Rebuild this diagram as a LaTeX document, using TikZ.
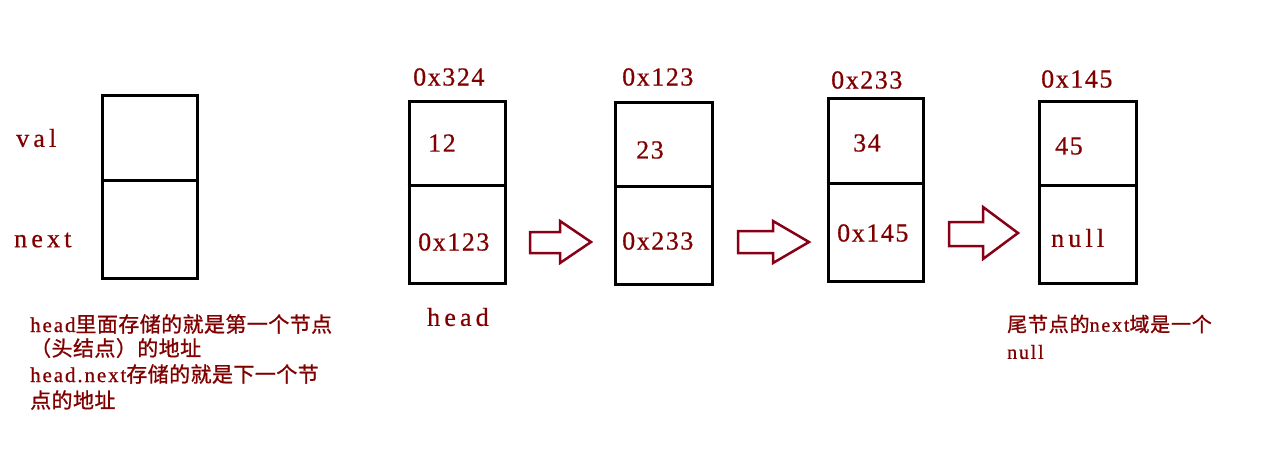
\documentclass[tikz,border=0pt]{standalone}
\usepackage{fontspec}
\setmainfont{Liberation Serif}
\newfontfamily\lat{Liberation Serif}[LetterSpace=6,FakeBold=0.6]
\newfontfamily\latw{Liberation Serif}[LetterSpace=16,FakeBold=0.6]
\newfontfamily\latb{Liberation Serif}[LetterSpace=9,FakeBold=0.8]
\newfontfamily\cjk{Noto Sans CJK SC}[LetterSpace=2,FakeBold=1]
\newfontfamily\cjkr{Noto Sans CJK SC}[LetterSpace=4,FakeBold=1]
\definecolor{txtred}{RGB}{128,0,0}
\definecolor{arrred}{RGB}{136,0,21}
\begin{document}
\begin{tikzpicture}[x=1pt,y=-1pt,
  cell/.style={draw=black,line width=3pt,rectangle,inner sep=0pt},
  lab/.style={anchor=west,inner sep=0pt,text=txtred,font=\lat\fontsize{26}{30}\selectfont},
  labw/.style={anchor=west,inner sep=0pt,text=txtred,font=\latw\fontsize{26}{30}\selectfont},
  note/.style={anchor=west,inner sep=0pt,text=txtred,font=\fontsize{21}{24}\selectfont},
  noter/.style={anchor=west,inner sep=0pt,text=txtred,font=\fontsize{20}{24}\selectfont},
  blockarrow/.style={draw=arrred,line width=2.5pt,fill=white,line join=miter}]
\useasboundingbox (0,0) rectangle (1276,464);
% legend box
\node[cell,minimum width=95pt,minimum height=183pt] (b0) at (149.5,186.5) {};
\draw[line width=3pt] (b0.west |- 0,180.5) -- (b0.east |- 0,180.5);
\node[labw] (lval) at (16,138) {val};
\node[labw] (lnext) at (14,240) {next};
% node 1
\node[cell,minimum width=96pt,minimum height=182pt] (b1) at (457,192) {};
\draw[line width=3pt] (b1.west |- 0,185) -- (b1.east |- 0,185);
\node[lab] (a1) at (413,77) {0x324};
\node[lab] (v1) at (428,143) {12};
\node[lab] (n1) at (418,242) {0x123};
\node[labw] (h1) at (427,317) {head};
% node 2
\node[cell,minimum width=97pt,minimum height=182pt] (b2) at (663.5,193) {};
\draw[line width=3pt] (b2.west |- 0,186) -- (b2.east |- 0,186);
\node[lab] (a2) at (622,77) {0x123};
\node[lab] (v2) at (636,150) {23};
\node[lab] (n2) at (622,241) {0x233};
% node 3
\node[cell,minimum width=95pt,minimum height=183pt] (b3) at (875.5,189.5) {};
\draw[line width=3pt] (b3.west |- 0,183) -- (b3.east |- 0,183);
\node[lab] (a3) at (831,80) {0x233};
\node[lab] (v3) at (853,143) {34};
\node[lab] (n3) at (837,233) {0x145};
% node 4
\node[cell,minimum width=97pt,minimum height=182pt] (b4) at (1087.5,192) {};
\draw[line width=3pt] (b4.west |- 0,185) -- (b4.east |- 0,185);
\node[lab] (a4) at (1041,79) {0x145};
\node[lab] (v4) at (1055,146) {45};
\node[labw] (n4) at (1051,238) {null};
% block arrows
\draw[blockarrow] (530,232) -- (560,232) -- (560,221) -- (591,242) -- (560,263) -- (560,253) -- (530,253) -- cycle;
\draw[blockarrow] (738,231) -- (773,231) -- (773,221) -- (809,242) -- (773,263) -- (773,253) -- (738,253) -- cycle;
\draw[blockarrow] (949,222) -- (983,222) -- (983,207) -- (1018,233) -- (983,259) -- (983,246) -- (949,246) -- cycle;
% notes
\node[note] (t1) at (30,324) {{\latb head}{\cjk 里面存储的就是第一个节点}};
\node[note] (t2) at (30,348) {{\cjk （头结点）的地址}};
\node[note] (t3) at (30,374) {{\latb head.next}{\cjk 存储的就是下一个节}};
\node[note] (t4) at (30,400) {{\cjk 点的地址}};
\node[noter] (t5) at (1007,324) {{\cjkr 尾节点的}{\latb next}{\cjkr 域是一个}};
\node[noter] (t6) at (1007,352) {{\latb null}};
\end{tikzpicture}
\end{document}
